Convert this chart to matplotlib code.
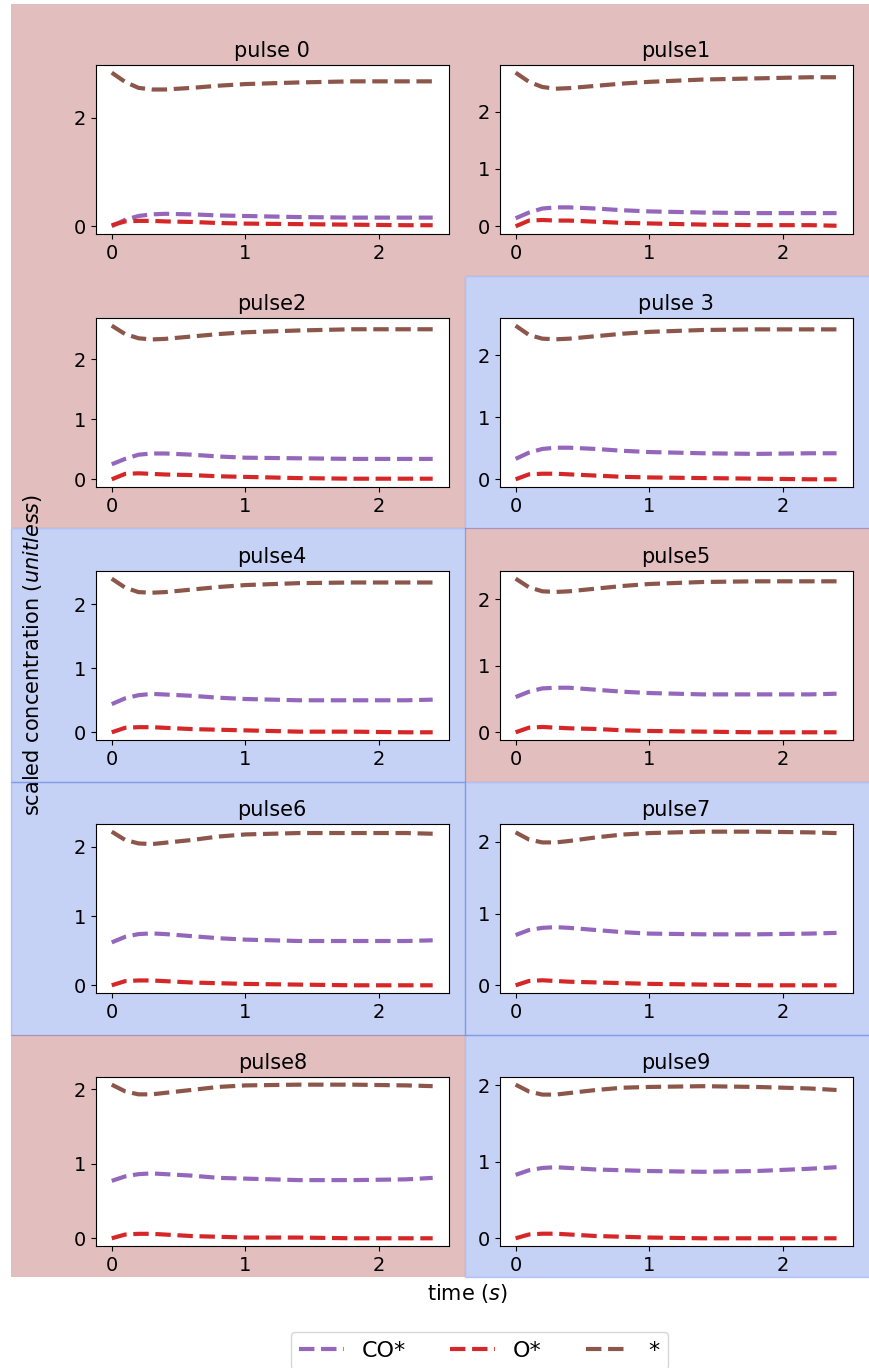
import matplotlib
matplotlib.use("Agg")
import matplotlib.pyplot as plt
from matplotlib.patches import Rectangle
import numpy as np

# time samples (s)
time = [0, 0.1, 0.2, 0.3, 0.4, 0.6, 0.8, 1.0, 1.4, 1.8, 2.2, 2.4]

titles = ['pulse 0', 'pulse1', 'pulse2', 'pulse 3', 'pulse4',
          'pulse5', 'pulse6', 'pulse7', 'pulse8', 'pulse9']

# background colour per pulse panel
panel_kind = ['red', 'red', 'red', 'blue', 'blue',
              'red', 'blue', 'blue', 'red', 'blue']

# y tick spacing per panel
ytick_step = [2, 1, 1, 1, 1, 1, 1, 1, 1, 1]

co_star = [
    [0.00, 0.12, 0.19, 0.22, 0.23, 0.22, 0.20, 0.19, 0.17, 0.16, 0.16, 0.16],
    [0.14, 0.24, 0.31, 0.33, 0.33, 0.31, 0.28, 0.26, 0.24, 0.23, 0.23, 0.23],
    [0.25, 0.34, 0.41, 0.43, 0.43, 0.41, 0.38, 0.36, 0.35, 0.34, 0.34, 0.34],
    [0.33, 0.43, 0.49, 0.51, 0.51, 0.49, 0.46, 0.44, 0.42, 0.41, 0.42, 0.42],
    [0.44, 0.53, 0.58, 0.60, 0.59, 0.57, 0.54, 0.52, 0.50, 0.50, 0.50, 0.51],
    [0.53, 0.61, 0.66, 0.67, 0.67, 0.64, 0.61, 0.59, 0.57, 0.57, 0.57, 0.58],
    [0.62, 0.70, 0.74, 0.75, 0.74, 0.71, 0.68, 0.66, 0.64, 0.64, 0.64, 0.65],
    [0.70, 0.77, 0.80, 0.81, 0.80, 0.77, 0.74, 0.72, 0.71, 0.71, 0.72, 0.73],
    [0.77, 0.83, 0.86, 0.87, 0.86, 0.84, 0.81, 0.80, 0.78, 0.78, 0.79, 0.81],
    [0.83, 0.89, 0.92, 0.93, 0.92, 0.90, 0.89, 0.88, 0.87, 0.88, 0.91, 0.93],
]

o_star = [
    [0.02, 0.09, 0.10, 0.10, 0.09, 0.08, 0.06, 0.05, 0.04, 0.03, 0.02, 0.02],
    [0.00, 0.10, 0.11, 0.10, 0.10, 0.08, 0.06, 0.05, 0.03, 0.02, 0.02, 0.01],
    [0.00, 0.09, 0.10, 0.09, 0.08, 0.07, 0.05, 0.04, 0.02, 0.01, 0.01, 0.01],
    [0.00, 0.08, 0.09, 0.09, 0.08, 0.06, 0.04, 0.03, 0.02, 0.01, 0.00, 0.00],
    [0.00, 0.07, 0.08, 0.08, 0.07, 0.05, 0.04, 0.03, 0.01, 0.01, 0.00, 0.00],
    [0.00, 0.07, 0.08, 0.07, 0.06, 0.05, 0.03, 0.02, 0.01, 0.00, 0.00, 0.00],
    [0.00, 0.06, 0.07, 0.07, 0.06, 0.04, 0.03, 0.02, 0.01, 0.00, 0.00, 0.00],
    [0.00, 0.06, 0.07, 0.06, 0.05, 0.04, 0.03, 0.02, 0.01, 0.00, 0.00, 0.00],
    [0.00, 0.05, 0.06, 0.06, 0.05, 0.03, 0.02, 0.01, 0.01, 0.00, 0.00, 0.00],
    [0.00, 0.05, 0.06, 0.06, 0.05, 0.03, 0.02, 0.01, 0.00, 0.00, 0.00, 0.00],
]

free_site = [
    [2.83, 2.66, 2.55, 2.52, 2.52, 2.55, 2.59, 2.62, 2.65, 2.67, 2.67, 2.67],
    [2.68, 2.52, 2.43, 2.40, 2.41, 2.45, 2.49, 2.52, 2.56, 2.58, 2.60, 2.60],
    [2.56, 2.42, 2.35, 2.33, 2.34, 2.38, 2.42, 2.45, 2.48, 2.50, 2.50, 2.50],
    [2.48, 2.33, 2.27, 2.26, 2.27, 2.31, 2.35, 2.38, 2.41, 2.42, 2.42, 2.42],
    [2.40, 2.26, 2.19, 2.18, 2.19, 2.23, 2.27, 2.30, 2.33, 2.34, 2.34, 2.34],
    [2.31, 2.18, 2.12, 2.11, 2.12, 2.16, 2.20, 2.23, 2.26, 2.27, 2.27, 2.27],
    [2.22, 2.10, 2.05, 2.04, 2.06, 2.10, 2.15, 2.18, 2.20, 2.20, 2.20, 2.19],
    [2.13, 2.03, 1.99, 1.99, 2.01, 2.06, 2.10, 2.12, 2.14, 2.14, 2.13, 2.12],
    [2.06, 1.97, 1.93, 1.93, 1.95, 1.99, 2.03, 2.05, 2.06, 2.06, 2.05, 2.04],
    [2.01, 1.92, 1.88, 1.88, 1.90, 1.94, 1.97, 1.98, 1.99, 1.98, 1.96, 1.94],
]

species = ['CO*', 'O*', '*']
colors = ['tab:purple', 'tab:red', 'tab:brown']

W, H = 870, 1368
fig, axes = plt.subplots(5, 2, figsize=(W / 100, H / 100), dpi=100)
fig.subplots_adjust(left=0.110, right=0.980, top=0.9525, bottom=0.0892,
                    wspace=0.144, hspace=0.497)

# panel background cells (pixel edges)
x_edges = [11, 465, 870]
y_edges = [4, 276, 528, 782, 1035, 1277]
bg = {'red': ('brown', 'none'), 'blue': ('royalblue', 'royalblue')}

for i, ax in enumerate(axes.flat):
    r, c = divmod(i, 2)
    x0 = x_edges[c] / W
    w = (x_edges[c + 1] - x_edges[c]) / W
    y0 = 1 - y_edges[r + 1] / H
    h = (y_edges[r + 1] - y_edges[r]) / H
    fc, ec = bg[panel_kind[i]]
    fig.patches.append(Rectangle((x0, y0), w, h, transform=fig.transFigure,
                                 facecolor=fc, edgecolor=ec,
                                 alpha=0.3, lw=1, zorder=-1))

    series = [co_star[i], o_star[i], free_site[i]]
    for s, lab, col in zip(series, species, colors):
        ax.plot(time, s, '--', color=col, lw=3, label=lab)
    ax.set_title(titles[i], fontsize=15)
    ax.tick_params(labelsize=14)
    ax.set_xticks([0, 1, 2])
    ax.yaxis.set_major_locator(plt.MultipleLocator(ytick_step[i]))

fig.text(0.037, 0.521, r'scaled concentration ($\mathit{unitless}$)',
         rotation=90, ha='center', va='center', fontsize=15)
fig.text(0.538, 0.0548, r'time ($\mathit{s}$)', ha='center', va='center', fontsize=15)

handles, labels = axes.flat[0].get_legend_handles_labels()
fig.legend(handles, labels, loc='upper center', bbox_to_anchor=(0.551, 0.0263),
           ncol=3, fontsize=16, borderaxespad=0)

fig.savefig('out.png', dpi=100)
